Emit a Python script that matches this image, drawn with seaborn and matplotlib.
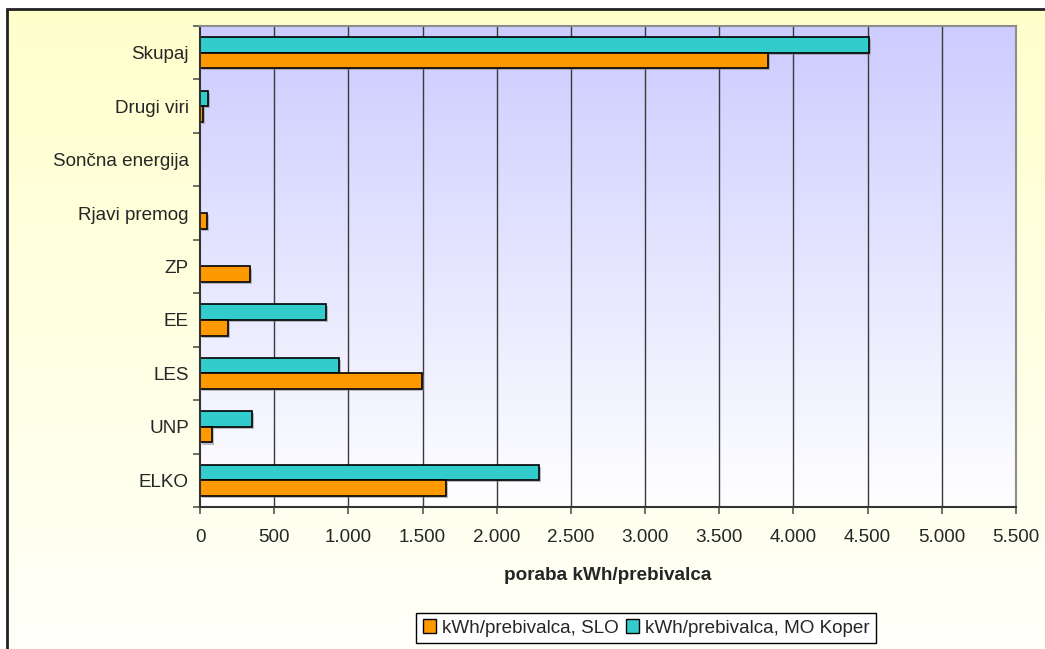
import numpy as np
import pandas as pd
import matplotlib
matplotlib.use("Agg")
import matplotlib.pyplot as plt
import matplotlib.patheffects as pe
from matplotlib.colors import LinearSegmentedColormap
from matplotlib.patches import Patch, Rectangle
import seaborn as sns

# Energy use per inhabitant by source (kWh/prebivalca)
categories = ["ELKO", "UNP", "LES", "EE", "ZP", "Rjavi premog",
              "Sončna energija", "Drugi viri", "Skupaj"]
slo = [1655, 81, 1494, 187, 337, 49, 0, 23, 3830]
koper = [2287, 348, 934, 849, 0, 0, 0, 56, 4510]
series_labels = ["kWh/prebivalca, SLO", "kWh/prebivalca, MO Koper"]
x_ticks = [0, 500, 1000, 1500, 2000, 2500, 3000, 3500, 4000, 4500, 5000, 5500]
x_label = "poraba kWh/prebivalca"

colors = {series_labels[0]: "#FF9900", series_labels[1]: "#33CCCC"}

df = pd.DataFrame({
    "kategorija": categories * 2,
    "vrednost": slo + koper,
    "serija": [series_labels[0]] * len(categories) + [series_labels[1]] * len(categories),
})

sns.set_theme(style="white")
plt.rcParams["font.family"] = ["Liberation Sans", "DejaVu Sans"]
FS = 13.6

W, H = 1045, 649
fig = plt.figure(figsize=(W / 100, H / 100), dpi=100)
fig.patch.set_facecolor("white")

# chart area background: pale yellow fading to white
bg = fig.add_axes([7 / W, 0, 1 - 7 / W, 1 - 9 / H])
bg.set_axis_off()
bg_cmap = LinearSegmentedColormap.from_list("bg", ["#FFFFCC", "#FFFFF9"])
bg.imshow(np.linspace(0, 1, 256).reshape(-1, 1), cmap=bg_cmap, aspect="auto",
          extent=[0, 1, 0, 1], origin="upper")
bg.set_xlim(0, 1)
bg.set_ylim(0, 1)

left, right, top, bottom = 200, 1016, 26, 507
ax = fig.add_axes([left / W, 1 - bottom / H, (right - left) / W, (bottom - top) / H])
ax.set_zorder(2)

# plot area background: lavender fading to white
pa_cmap = LinearSegmentedColormap.from_list("pa", ["#CCCCFF", "#FFFFFF"])
ax.imshow(np.linspace(0, 1, 256).reshape(-1, 1), cmap=pa_cmap, aspect="auto",
          extent=[0, 1, 0, 1], origin="upper", transform=ax.transAxes, zorder=0)

sns.barplot(data=df, x="vrednost", y="kategorija", hue="serija",
            order=categories[::-1], hue_order=[series_labels[1], series_labels[0]],
            palette=colors, width=0.585, saturation=1, edgecolor="black",
            linewidth=1.2, legend=False, ax=ax, zorder=3)

for bar in ax.patches:
    if bar.get_width() > 0:
        bar.set_path_effects([pe.SimplePatchShadow(offset=(1.5, -1.5), shadow_rgbFace="gray", alpha=0.5),
                              pe.Normal()])
    else:
        bar.set_visible(False)

ax.set_xlim(0, 5500)
ax.set_ylim(len(categories) - 0.5, -0.5)

ax.set_xticks(x_ticks)
ax.set_xticklabels([f"{v:,}".replace(",", ".") for v in x_ticks], fontsize=FS)
for v in x_ticks[1:-1]:
    ax.axvline(v, color="#3a3a3a", lw=1.0, zorder=1)

ax.set_yticks(np.arange(-0.5, len(categories), 1.0))
ax.set_yticklabels([])
ax.set_yticks(np.arange(len(categories)), minor=True)
ax.set_yticklabels(categories[::-1], minor=True, fontsize=FS)
ax.tick_params(axis="y", which="major", left=True, length=5, width=1.2, color="#555555", direction="out")
ax.tick_params(axis="y", which="minor", left=True, length=0, pad=8)
ax.tick_params(axis="x", which="major", bottom=True, length=5, width=1.2, color="#555555",
               direction="out", pad=11)

ax.set_xlabel(x_label, fontsize=FS, fontweight="bold", labelpad=15)
ax.set_ylabel("")

for side in ["left", "bottom"]:
    ax.spines[side].set_color("#333333")
    ax.spines[side].set_linewidth(1.5)
for side in ["top", "right"]:
    ax.spines[side].set_color("#8c8c8c")
    ax.spines[side].set_linewidth(1.5)
for sp in ax.spines.values():
    sp.set_visible(True)
    sp.set_zorder(5)

handles = [Patch(facecolor=colors[s], edgecolor="black", linewidth=1.0, label=s) for s in series_labels]
leg = fig.legend(handles=handles, ncol=2, loc="center",
                 bbox_to_anchor=(646 / W, 1 - 628 / H), fontsize=FS,
                 frameon=True, fancybox=False, framealpha=1, edgecolor="black",
                 borderpad=0.35, handlelength=0.7, handleheight=0.7,
                 handletextpad=0.3, columnspacing=0.4, borderaxespad=0)
leg.get_frame().set_linewidth(1.0)
leg.set_zorder(10)

# outer chart frame (runs off the right and bottom edges)
fig.add_artist(Rectangle((7 / W, -0.1), 1.2, 1 - 9 / H + 0.1, transform=fig.transFigure,
                         fill=False, edgecolor="#222222", linewidth=2.0, zorder=20))

fig.savefig("out.png", dpi=100)
